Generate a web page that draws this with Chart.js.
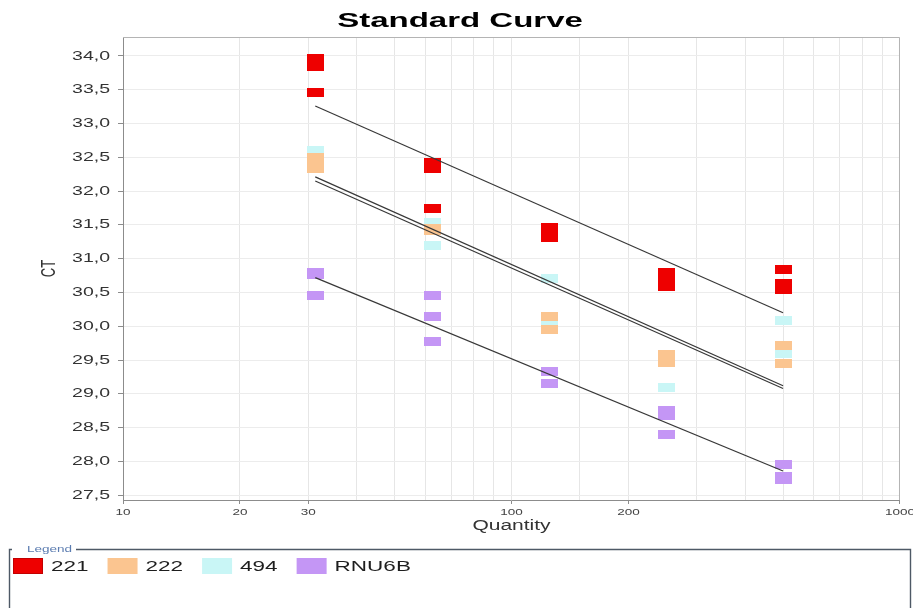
<!DOCTYPE html>
<html>
<head>
<meta charset="utf-8">
<title>Standard Curve</title>
<script src="https://cdn.jsdelivr.net/npm/chart.js@4.4.1/dist/chart.umd.min.js"></script>
<style>
  html, body { margin: 0; padding: 0; background: #ffffff; }
  canvas { display: block; }
</style>
</head>
<body>
<canvas id="curve" width="913" height="608"></canvas>
<script>
// Dilution series (quantity) and replicate Ct values per assay
const quantities = [31.25, 62.5, 125, 250, 500];
const seriesNames = ['221', '222', '494', 'RNU6B'];

const ct221   = [[33.96, 33.84, 33.46], [32.43, 32.33, 31.74], [31.46, 31.39, 31.32], [30.79, 30.70, 30.59], [30.84, 30.64, 30.55]];
const ct222   = [[32.49, 32.42, 32.34], [31.45, 31.41], [30.14, 29.95], [29.59, 29.46], [29.72, 29.45]];
const ct494   = [[32.60], [31.54, 31.19], [30.71, 30.05], [29.09], [30.09, 29.60]];
const ctRNU6B = [[30.80, 30.76, 30.46], [30.45, 30.15, 29.77], [29.33, 29.15], [28.75, 28.68, 28.40], [27.96, 27.78, 27.73]];

// Fitted standard-curve lines: Ct at the first and last quantity
const fitQuantities = [31.25, 500];
const fit221   = [33.26, 30.20];
const fit222   = [32.21, 29.12];
const fit494   = [32.15, 29.08];
const fitRNU6B = [30.72, 27.86];

// Labelled ticks on the log quantity axis
const xTickLabels = [10, 20, 30, 100, 200, 1000];

// ---------------------------------------------------------------------------
const seriesCt = [ct221, ct222, ct494, ctRNU6B];
const seriesFit = [fit221, fit222, fit494, fitRNU6B];
const seriesFill = ['#ee0000', '#fbc590', '#c9f6f6', '#c496f5'];
const seriesEdge = ['#c20000', null, null, null];

const FONT = "'Liberation Sans', Arial, sans-serif";
const TEXT_STRETCH = 1.5;   // wide lettering used throughout the chart
const TITLE_STRETCH = 1.65; // the bold heading is a bit wider still

const canvas = document.getElementById('curve');
const ctx = canvas.getContext('2d');

// Draw every text run horizontally widened about its anchor point
const baseFillText = ctx.fillText;
ctx.fillText = function (text, x, y, maxWidth) {
  const k = /bold|700/.test(this.font) ? TITLE_STRETCH : TEXT_STRETCH;
  const m = this.getTransform();
  const p = m.transformPoint(new DOMPoint(x, y));
  this.save();
  this.setTransform(new DOMMatrix().translate(p.x, p.y).scale(k, 1).translate(-p.x, -p.y).multiply(m));
  if (maxWidth === undefined) baseFillText.call(this, text, x, y);
  else baseFillText.call(this, text, x, y, maxWidth);
  this.restore();
};

// Flat rectangular marker for each assay
function makeMarker(fill) {
  const c = document.createElement('canvas');
  c.width = 17; c.height = 9;
  const g = c.getContext('2d');
  g.fillStyle = fill;
  g.fillRect(0, 0, 17, 9);
  return c;
}

const datasets = [];
seriesNames.forEach((name, i) => {
  const pts = [];
  quantities.forEach((q, j) => seriesCt[i][j].forEach(v => pts.push({ x: q, y: v })));
  datasets.push({
    label: name,
    data: pts,
    pointStyle: makeMarker(seriesFill[i]),
    pointRadius: 5,
    showLine: false,
    order: i + 1
  });
});
seriesNames.forEach((name, i) => {
  datasets.push({
    label: name + ' fit',
    data: fitQuantities.map((q, j) => ({ x: q, y: seriesFit[i][j] })),
    showLine: true,
    borderColor: '#383838',
    borderWidth: 1.2,
    pointRadius: 0,
    fill: false,
    order: 0
  });
});

const isLabelled = v => xTickLabels.some(t => Math.abs(t - v) < 1e-6);

// Border around the plot area and the boxed legend beneath the chart
const framePlugin = {
  id: 'frameAndLegend',
  afterDraw(chart) {
    const g = chart.ctx;
    const a = chart.chartArea;
    g.save();
    g.strokeStyle = '#b4b4b4';
    g.lineWidth = 1;
    g.beginPath();
    g.moveTo(a.left, a.top + 0.5);
    g.lineTo(a.right - 0.5, a.top + 0.5);
    g.lineTo(a.right - 0.5, a.bottom);
    g.stroke();

    // legend frame with its caption set into the top edge
    const L = 9.5, R = 910.5, T = 549.5, B = 620;
    g.strokeStyle = '#4e5966';
    g.lineWidth = 1.4;
    g.beginPath();
    g.moveTo(12, T); g.lineTo(L, T); g.lineTo(L, B);
    g.moveTo(76, T); g.lineTo(R, T); g.lineTo(R, B);
    g.stroke();
    g.font = '9px ' + FONT;
    g.fillStyle = '#5b7cb0';
    g.textAlign = 'left';
    g.textBaseline = 'middle';
    g.fillText('Legend', 27, T);

    // legend entries
    g.font = '15px ' + FONT;
    g.textBaseline = 'middle';
    let x = 13;
    const y = 558, sw = 30, sh = 16;
    seriesNames.forEach((name, i) => {
      g.fillStyle = seriesFill[i];
      g.fillRect(x, y, sw, sh);
      if (seriesEdge[i]) {
        g.strokeStyle = seriesEdge[i];
        g.lineWidth = 1;
        g.strokeRect(x + 0.5, y + 0.5, sw - 1, sh - 1);
      }
      g.fillStyle = '#1e1e1e';
      const tx = x + sw + 8;
      g.fillText(name, tx, y + sh / 2 + 1);
      x = tx + g.measureText(name).width * TEXT_STRETCH + 19;
    });
    g.restore();
  }
};

new Chart(ctx, {
  type: 'scatter',
  data: { datasets },
  options: {
    responsive: false,
    animation: false,
    events: [],
    devicePixelRatio: 1,
    layout: { padding: { left: 18, right: 11, top: 0, bottom: 68 } },
    plugins: {
      legend: { display: false },
      tooltip: { enabled: false },
      title: {
        display: true,
        text: 'Standard Curve',
        color: '#000000',
        font: { family: FONT, size: 20, weight: 'bold', lineHeight: 1.2 },
        padding: { top: 9, bottom: 4 }
      }
    },
    scales: {
      x: {
        type: 'logarithmic',
        min: 10,
        max: 1000,
        afterFit(scale) { scale.height = 40; },
        border: { display: true, color: '#8c8c8c', width: 1 },
        grid: {
          color: '#e6e6e6',
          lineWidth: 1,
          drawTicks: true,
          tickLength: 4,
          tickColor: c => (c.tick && isLabelled(c.tick.value)) ? '#8c8c8c' : 'rgba(0,0,0,0)'
        },
        ticks: {
          autoSkip: false,
          maxRotation: 0,
          minRotation: 0,
          padding: 3,
          color: '#444444',
          font: { family: FONT, size: 9 },
          callback: v => isLabelled(v) ? String(Math.round(v)) : ''
        },
        title: {
          display: true,
          text: 'Quantity',
          color: '#333333',
          font: { family: FONT, size: 14 },
          padding: { top: 0, bottom: 5 }
        }
      },
      y: {
        type: 'linear',
        min: 27.43,
        max: 34.28,
        afterFit(scale) { scale.width = 105; },
        border: { display: true, color: '#8c8c8c', width: 1 },
        grid: {
          color: '#ececec',
          lineWidth: 1,
          tickLength: 5,
          tickColor: '#8c8c8c'
        },
        ticks: {
          stepSize: 0.5,
          includeBounds: false,
          padding: 8,
          color: '#333333',
          font: { family: FONT, size: 13 },
          callback: v => v.toFixed(1).replace('.', ',')
        },
        title: {
          display: true,
          text: 'CT',
          color: '#333333',
          font: { family: FONT, size: 13 },
          padding: { top: 24, bottom: 0 }
        }
      }
    }
  },
  plugins: [framePlugin]
});
</script>
</body>
</html>
